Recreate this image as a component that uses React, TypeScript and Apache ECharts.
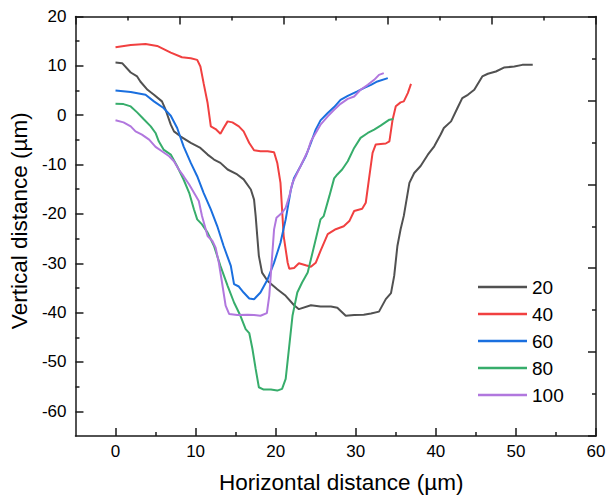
import React, { useEffect, useRef } from "react";
import * as echarts from "echarts";

const seriesNames = ["20", "40", "60", "80", "100"];
const seriesColors = ["#515151", "#F14040", "#1A6FDF", "#37AD6B", "#B177DE"];

const s20: number[][] = [[0,10.67],[0.83,10.54],[1.9,8.65],[2.7,7.85],[3.1,6.83],[4.0,5.15],[4.8,4.14],[5.8,2.8],[6.25,1.11],[6.9,-1.92],[7.3,-3.27],[8.1,-4.28],[9.4,-5.62],[10.6,-6.63],[11.5,-7.98],[12.3,-8.99],[13.1,-9.66],[14.0,-11.0],[15.2,-12.0],[16.0,-13.0],[16.9,-15.05],[17.3,-17.1],[17.5,-20.4],[17.7,-24.5],[17.9,-28.5],[18.3,-31.9],[19.0,-33.6],[20.2,-35.25],[21.25,-36.6],[22.3,-38.5],[22.9,-39.3],[24.4,-38.5],[25.6,-38.75],[26.9,-38.75],[27.7,-39.0],[28.75,-40.64],[29.8,-40.5],[31.0,-40.44],[31.9,-40.17],[32.9,-39.8],[33.75,-37.27],[34.4,-36.06],[34.8,-32.56],[35.2,-26.5],[35.6,-23.1],[36.0,-20.4],[36.7,-13.7],[37.3,-11.7],[38.1,-10.3],[39.0,-8.0],[39.8,-6.3],[40.6,-3.9],[41.0,-2.6],[41.9,-1.25],[42.7,1.45],[43.3,3.47],[44.0,4.14],[44.8,5.15],[45.8,7.85],[46.5,8.4],[47.5,8.86],[48.5,9.66],[49.8,9.87],[50.8,10.2],[52.1,10.2]];

const s40: number[][] = [[0,13.77],[1.9,14.24],[3.75,14.44],[5.2,14.04],[6.9,12.69],[8.3,11.75],[9.4,11.55],[10.2,11.21],[10.6,9.87],[11.0,6.5],[11.5,2.46],[11.9,-2.26],[12.5,-2.8],[13.1,-3.74],[13.5,-2.6],[14.0,-1.25],[14.6,-1.45],[15.4,-2.26],[16.0,-3.27],[16.7,-5.62],[17.3,-7.1],[18.1,-7.3],[19.0,-7.3],[19.8,-7.5],[20.2,-9.67],[20.6,-13.7],[20.8,-19.1],[21.0,-24.5],[21.5,-29.9],[21.7,-31.1],[22.3,-30.95],[22.9,-30.0],[23.75,-30.4],[24.4,-30.7],[25.0,-29.9],[25.6,-27.5],[26.5,-24.1],[27.5,-23.1],[28.5,-22.5],[29.2,-21.45],[29.8,-19.4],[30.8,-18.96],[31.25,-17.74],[31.7,-12.36],[32.1,-7.64],[32.5,-5.93],[33.75,-5.73],[34.2,-5.29],[34.6,-0.91],[35.0,1.8],[35.6,2.6],[36.0,2.8],[36.5,4.48],[36.9,6.36]];

const s60: number[][] = [[0,5.02],[1.9,4.68],[3.75,4.14],[4.8,2.8],[6.0,1.45],[6.9,-0.1],[7.7,-2.59],[8.5,-6.3],[9.4,-9.66],[10.2,-12.36],[11.0,-15.72],[11.9,-19.1],[12.7,-22.46],[13.5,-26.5],[14.4,-30.54],[14.8,-34.24],[15.4,-34.71],[16.0,-35.93],[16.7,-37.14],[17.3,-37.28],[18.1,-35.93],[19.0,-33.23],[19.8,-29.87],[20.6,-25.83],[21.25,-21.11],[21.9,-15.05],[22.3,-12.7],[23.1,-10.34],[23.75,-8.32],[24.4,-5.62],[25.0,-2.93],[25.6,-1.04],[26.5,0.44],[27.3,1.65],[28.1,3.1],[29.0,3.9],[30.2,4.82],[31.0,5.49],[31.9,6.16],[32.7,6.84],[34.0,7.51]];

const s80: number[][] = [[0,2.32],[1.0,2.25],[1.9,1.78],[2.7,0.57],[3.5,-0.77],[4.4,-2.26],[5.0,-3.6],[5.4,-5.29],[6.0,-6.97],[6.9,-7.98],[7.7,-10.34],[8.5,-13.03],[9.2,-15.72],[9.8,-19.1],[10.2,-21.11],[10.8,-22.12],[11.5,-23.8],[12.3,-26.5],[13.1,-30.54],[14.0,-34.58],[14.8,-37.95],[15.6,-40.64],[16.25,-43.33],[16.7,-44.14],[17.1,-47.37],[17.5,-51.41],[17.9,-55.12],[18.5,-55.6],[19.4,-55.6],[20.2,-55.8],[20.8,-55.45],[21.25,-53.43],[21.7,-46.7],[22.1,-40.64],[22.7,-35.93],[23.3,-33.9],[24.0,-31.89],[24.8,-26.5],[25.6,-21.11],[26.0,-20.44],[26.7,-16.4],[27.3,-12.8],[27.7,-12.0],[28.3,-11.0],[29.0,-9.33],[29.8,-6.63],[30.6,-4.6],[31.5,-3.6],[32.3,-2.93],[33.1,-2.12],[34.2,-0.91],[34.7,-0.77]];

const s100: number[][] = [[0,-1.04],[1.0,-1.45],[1.9,-2.26],[2.5,-3.27],[3.3,-3.94],[4.2,-4.95],[5.0,-6.43],[5.8,-7.31],[6.7,-8.32],[7.3,-9.33],[7.9,-11.0],[8.5,-12.36],[9.2,-14.04],[9.8,-15.72],[10.4,-17.4],[10.8,-20.44],[11.5,-24.48],[12.1,-25.49],[12.5,-26.83],[12.9,-29.87],[13.3,-33.9],[13.75,-38.6],[14.2,-40.3],[15.2,-40.5],[16.5,-40.44],[17.3,-40.5],[18.1,-40.64],[18.9,-40.1],[19.2,-36.6],[19.5,-29.87],[19.8,-23.13],[20.1,-20.77],[20.8,-19.76],[21.25,-18.75],[21.7,-16.4],[22.1,-13.7],[22.7,-11.68],[23.3,-9.66],[24.0,-7.31],[24.4,-5.29],[25.0,-3.6],[25.6,-1.92],[26.5,-0.24],[27.3,1.11],[28.1,2.3],[29.0,3.3],[29.8,3.8],[30.6,5.15],[31.5,6.16],[32.3,7.17],[32.9,8.18],[33.5,8.52]];

const allSeries = [s20, s40, s60, s80, s100];

const xMajorTicks = [0, 10, 20, 30, 40, 50, 60];
const xMinorTicks = [5, 15, 25, 35, 45, 55];
const yMajorTicks = [-60, -50, -40, -30, -20, -10, 0, 10, 20];
const yMinorTicks = [-55, -45, -35, -25, -15, -5, 5, 15];

const FONT = "'Liberation Sans', Arial, sans-serif";
const AXIS_COLOR = "#1a1a1a";

export default function App() {
  const ref = useRef<HTMLDivElement>(null);
  useEffect(() => {
    document.body.style.margin = "0";
    const chart = echarts.init(ref.current!, null, { renderer: "svg" });
    const lineStyle = { color: AXIS_COLOR, width: 1.5 };
    const majorTick = { show: true, inside: true, length: 8, lineStyle };
    const minorTickStyle = { show: true, inside: true, length: 4, lineStyle };
    chart.setOption({
      animation: false,
      backgroundColor: "#ffffff",
      textStyle: { fontFamily: FONT },
      grid: { left: 75, top: 16.5, right: 20, bottom: 62, containLabel: false },
      legend: {
        orient: "vertical",
        left: 478,
        top: 273.5,
        padding: 0,
        icon: "rect",
        itemWidth: 49,
        itemHeight: 2.5,
        itemGap: 0,
        data: seriesNames,
        textStyle: { fontSize: 19, color: "#000", fontFamily: FONT, lineHeight: 27 },
      },
      xAxis: [
        {
          type: "value",
          min: -5,
          max: 60,
          position: "bottom",
          axisLine: { show: true, onZero: false, lineStyle },
          axisTick: { ...majorTick, customValues: xMajorTicks },
          axisLabel: { show: true, customValues: xMajorTicks, fontSize: 17, color: "#000", margin: 7, fontFamily: FONT },
          splitLine: { show: false },
          name: "Horizontal distance (µm)",
          nameLocation: "middle",
          nameGap: 35,
          nameTextStyle: { fontSize: 22.5, color: "#000", fontFamily: FONT, padding: [0, 0, 0, 11] },
        },
        {
          type: "value",
          min: -5,
          max: 60,
          position: "bottom",
          axisLine: { show: false, onZero: false },
          axisTick: { ...minorTickStyle, customValues: xMinorTicks },
          axisLabel: { show: false },
          splitLine: { show: false },
        },
        {
          type: "value",
          min: 0,
          max: 10,
          interval: 2,
          position: "top",
          axisLine: { show: true, onZero: false, lineStyle },
          axisTick: majorTick,
          minorTick: { show: true, splitNumber: 2, length: 4, lineStyle },
          axisLabel: { show: false },
          splitLine: { show: false },
        },
      ],
      yAxis: [
        {
          type: "value",
          min: -65,
          max: 20,
          position: "left",
          axisLine: { show: true, onZero: false, lineStyle },
          axisTick: { ...majorTick, customValues: yMajorTicks },
          axisLabel: { show: true, customValues: yMajorTicks, fontSize: 17, color: "#000", margin: 9, fontFamily: FONT },
          splitLine: { show: false },
          name: "Vertical distance (µm)",
          nameLocation: "middle",
          nameGap: 43,
          nameTextStyle: { fontSize: 22.5, color: "#000", fontFamily: FONT, padding: [0, 0, 0, 11] },
        },
        {
          type: "value",
          min: -65,
          max: 20,
          position: "left",
          axisLine: { show: false, onZero: false },
          axisTick: { ...minorTickStyle, customValues: yMinorTicks },
          axisLabel: { show: false },
          splitLine: { show: false },
        },
        {
          type: "value",
          min: 0,
          max: 10,
          interval: 2,
          position: "right",
          axisLine: { show: true, onZero: false, lineStyle },
          axisTick: majorTick,
          minorTick: { show: true, splitNumber: 2, length: 4, lineStyle },
          axisLabel: { show: false },
          splitLine: { show: false },
        },
      ],
      series: allSeries.map((d, i) => ({
        name: seriesNames[i],
        type: "line",
        xAxisIndex: 0,
        yAxisIndex: 0,
        data: d,
        symbol: "none",
        smooth: false,
        color: seriesColors[i],
        lineStyle: { color: seriesColors[i], width: 2 },
      })),
    });
    return () => chart.dispose();
  }, []);
  return <div ref={ref} style={{ width: 616, height: 499 }} />;
}
